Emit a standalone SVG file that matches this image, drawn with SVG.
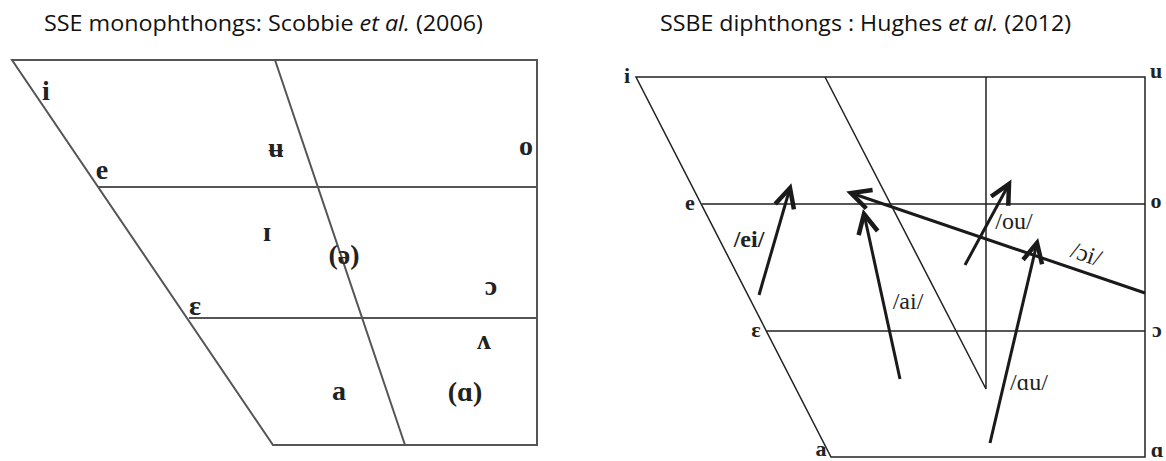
<svg xmlns="http://www.w3.org/2000/svg" width="1166" height="461" viewBox="0 0 1166 461">
<style>
.title{font-family:"Open Sans","Liberation Sans",sans-serif;font-size:21px;fill:#111}
.lv{font-family:"Liberation Serif","DejaVu Serif",serif;font-size:28px;font-weight:bold;fill:#222;text-anchor:middle}
.rv{font-family:"Liberation Serif","DejaVu Serif",serif;font-size:22px;font-weight:bold;fill:#222;text-anchor:middle}
.dl{font-family:"Liberation Serif","DejaVu Serif",serif;font-size:24px;fill:#222;text-anchor:middle}
.lg{stroke:#555;stroke-width:2;fill:none}
.rg{stroke:#222;stroke-width:1.5;fill:none}
.ar{stroke:#1a1a1a;stroke-width:3;fill:none;marker-end:url(#ah)}
</style>
<defs>
<marker id="ah" markerUnits="userSpaceOnUse" markerWidth="30" markerHeight="30" viewBox="-16 -10 20 20" refX="0" refY="0" orient="auto">
<path d="M-13,-6.5 L0,0 L-13,6.5" fill="none" stroke="#1a1a1a" stroke-width="3"/>
</marker>
</defs>
<rect width="1166" height="461" fill="#fff"/>
<g id="titles">
<text class="title" x="44" y="31" textLength="439" lengthAdjust="spacingAndGlyphs">SSE monophthongs: Scobbie <tspan font-style="italic">et al.</tspan> (2006)</text>
<text class="title" x="660" y="31" textLength="411" lengthAdjust="spacingAndGlyphs">SSBE diphthongs : Hughes <tspan font-style="italic">et al.</tspan> (2012)</text>
</g>
<g id="left-chart">
<path class="lg" d="M12,60 L537,60 L537,445 L273,445 Z"/>
<path class="lg" d="M98,187 L537,187 M189,318 L537,318 M275,60 L405,445"/>
</g>
<g id="left-vowels">
<text class="lv" x="46" y="100">i</text>
<text class="lv" x="102" y="179">e</text>
<text class="lv" x="276" y="157">ʉ</text>
<text class="lv" x="526" y="155">o</text>
<text class="lv" x="267" y="241">ɪ</text>
<text class="lv" x="344" y="264">(ə)</text>
<text class="lv" x="491" y="295">ɔ</text>
<text class="lv" x="195" y="315">ɛ</text>
<text class="lv" x="484" y="349">ʌ</text>
<text class="lv" x="339" y="400">a</text>
<text class="lv" x="465" y="401">(ɑ)</text>
</g>
<g id="right-chart">
<path class="rg" d="M636,77 L1145,77 L1145,457 L831,457 Z"/>
<path class="rg" d="M702,204 L1145,204 M767,331 L1145,331 M825,77 L986,389 L986,77"/>
</g>
<g id="right-vowels">
<text class="rv" x="627" y="83">i</text>
<text class="rv" x="1156" y="78">u</text>
<text class="rv" x="690" y="210">e</text>
<text class="rv" x="1156" y="208">o</text>
<text class="rv" x="756" y="337">ɛ</text>
<text class="rv" x="1157" y="337">ɔ</text>
<text class="rv" x="821" y="456">a</text>
<text class="rv" x="1157" y="457">ɑ</text>
</g>
<g id="connectors">
<line id="ei" class="ar" x1="759" y1="295" x2="790" y2="188"/>
<line id="ai" class="ar" x1="900" y1="379" x2="864" y2="214"/>
<line id="oi" class="ar" x1="1145" y1="293" x2="851" y2="193"/>
<line id="ou" class="ar" x1="965" y1="265" x2="1009" y2="184"/>
<line id="au" class="ar" x1="990" y1="443" x2="1037" y2="243"/>
</g>
<g id="diphthong-labels">
<text class="dl" x="749" y="247" font-weight="bold">/ei/</text>
<text class="dl" x="908" y="309">/ai/</text>
<text class="dl" x="1014" y="229">/ou/</text>
<text class="dl" x="1029" y="390">/ɑu/</text>
<text class="dl" x="1086" y="262" transform="rotate(19 1086 255)">/ɔi/</text>
</g>
</svg>
